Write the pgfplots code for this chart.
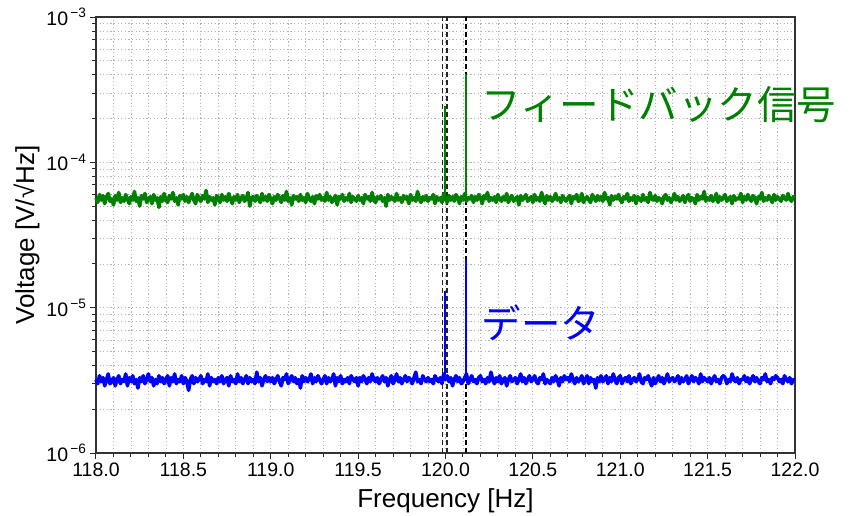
\documentclass[border=0pt]{standalone}
\usepackage{fontspec}
\setmainfont{Liberation Sans}
\newfontfamily\cjk{Noto Sans CJK JP}
\usepackage{pgfplots}
\usepackage{pgfplotstable}
\pgfplotsset{compat=1.18}
\definecolor{fbgreen}{RGB}{0,128,0}
\definecolor{datblue}{RGB}{0,0,255}

% feedback signal noise floor, units of 1e-5 V/sqrt(Hz), 118.00 ... 122.00 step 0.01
\pgfplotstableread[row sep=\\]{
g\\
5.7\\5.3\\6.0\\5.5\\5.9\\5.2\\5.8\\6.1\\5.4\\5.6\\
5.1\\5.9\\5.5\\6.2\\5.3\\5.7\\5.4\\6.0\\5.6\\5.2\\
5.8\\5.5\\6.3\\5.4\\5.7\\5.0\\5.9\\5.6\\6.1\\5.3\\
5.6\\5.8\\5.2\\6.0\\5.5\\5.7\\4.9\\5.8\\5.4\\6.1\\
5.5\\5.3\\5.9\\5.6\\6.2\\5.4\\5.7\\5.1\\5.9\\5.6\\
6.0\\5.4\\5.8\\5.3\\5.7\\6.1\\5.5\\5.2\\6.0\\5.6\\
5.4\\5.9\\5.6\\6.4\\5.3\\5.8\\5.5\\5.7\\5.1\\5.9\\
5.7\\5.3\\6.0\\5.5\\5.8\\5.4\\6.1\\5.6\\5.2\\5.8\\
5.5\\6.0\\5.3\\5.7\\5.9\\5.4\\5.6\\6.2\\5.0\\5.7\\
5.8\\5.4\\5.9\\5.6\\5.3\\6.1\\5.5\\5.8\\5.4\\6.0\\
5.6\\5.2\\5.8\\5.5\\6.0\\5.7\\5.3\\5.9\\5.5\\6.3\\
5.4\\5.7\\5.1\\5.9\\5.6\\5.8\\5.4\\6.0\\5.5\\5.7\\
5.3\\6.1\\5.6\\5.4\\5.8\\5.2\\5.9\\5.6\\6.0\\5.5\\
5.7\\5.4\\6.2\\5.5\\5.8\\5.3\\5.6\\5.9\\5.1\\5.8\\
5.6\\6.0\\5.4\\5.7\\5.5\\6.1\\5.3\\5.8\\5.6\\5.4\\
5.9\\5.5\\5.7\\5.2\\6.0\\5.6\\5.8\\5.4\\6.2\\5.5\\
5.3\\5.8\\5.6\\5.9\\5.4\\5.7\\5.0\\6.0\\5.5\\5.8\\
5.6\\5.4\\6.1\\5.5\\5.7\\5.3\\5.9\\5.6\\5.8\\5.2\\
6.0\\5.5\\5.7\\5.4\\6.3\\5.6\\5.3\\5.8\\5.5\\5.9\\
5.4\\5.7\\5.6\\6.0\\5.2\\5.8\\5.5\\5.7\\5.3\\6.1\\
5.6\\5.3\\5.9\\5.5\\5.8\\5.4\\6.0\\5.7\\5.2\\5.8\\
5.5\\6.1\\5.4\\5.7\\5.6\\5.9\\5.3\\5.8\\5.5\\6.0\\
5.7\\5.2\\5.9\\5.6\\6.2\\5.4\\5.7\\5.5\\5.8\\5.3\\
6.0\\5.6\\5.4\\5.8\\5.5\\6.1\\5.3\\5.7\\5.9\\5.4\\
5.6\\5.8\\5.1\\5.9\\5.5\\5.7\\6.0\\5.4\\5.6\\5.8\\
5.3\\6.0\\5.5\\5.7\\5.4\\6.2\\5.6\\5.2\\5.9\\5.5\\
5.8\\5.4\\5.6\\6.1\\5.5\\5.7\\5.3\\5.9\\5.6\\5.4\\
5.7\\5.9\\5.2\\5.8\\5.6\\6.0\\5.4\\5.5\\6.1\\5.3\\
5.6\\5.8\\5.5\\5.3\\6.0\\5.7\\5.4\\5.9\\5.5\\5.8\\
5.4\\6.2\\5.6\\5.7\\5.1\\5.9\\5.5\\5.8\\5.6\\6.0\\
5.5\\5.3\\5.8\\5.6\\6.1\\5.4\\5.7\\5.5\\5.9\\5.2\\
5.8\\5.6\\5.4\\6.0\\5.5\\5.7\\5.3\\6.2\\5.6\\5.5\\
5.9\\5.4\\5.7\\5.6\\5.2\\5.8\\6.0\\5.5\\5.7\\5.3\\
5.6\\6.1\\5.5\\5.8\\5.4\\5.6\\5.9\\5.3\\5.7\\6.0\\
5.4\\5.7\\5.6\\5.2\\6.0\\5.5\\5.8\\5.6\\6.3\\5.4\\
5.7\\5.5\\5.9\\5.4\\5.6\\6.1\\5.3\\5.8\\5.5\\5.7\\
6.0\\5.4\\5.6\\5.8\\5.2\\5.9\\5.5\\5.7\\5.6\\6.1\\
5.3\\5.8\\5.5\\6.0\\5.6\\5.4\\5.9\\5.7\\5.2\\5.8\\
5.6\\6.2\\5.4\\5.7\\5.5\\5.9\\5.6\\5.3\\6.0\\5.5\\
5.8\\5.6\\5.4\\5.9\\5.7\\5.5\\6.1\\5.6\\5.4\\5.8\\
5.7\\
}\greendata

% data noise floor, units of 1e-6 V/sqrt(Hz), 118.00 ... 122.00 step 0.01
\pgfplotstableread[row sep=\\]{
b\\
3.2\\3.0\\3.4\\3.1\\3.3\\2.9\\3.2\\3.5\\3.0\\3.1\\
3.3\\2.9\\3.2\\3.4\\3.0\\3.2\\3.1\\3.5\\2.9\\3.3\\
3.1\\3.4\\3.0\\3.2\\2.8\\3.3\\3.1\\3.4\\3.0\\3.2\\
3.5\\3.1\\3.3\\2.9\\3.2\\3.0\\3.4\\3.1\\3.3\\3.0\\
3.2\\3.4\\2.9\\3.3\\3.1\\3.5\\3.0\\3.2\\3.1\\3.4\\
3.0\\3.3\\3.1\\2.7\\3.2\\3.4\\3.0\\3.3\\3.1\\3.2\\
3.4\\3.0\\3.2\\3.1\\3.5\\2.9\\3.3\\3.1\\3.2\\3.0\\
3.3\\3.1\\3.4\\3.0\\3.2\\3.3\\2.9\\3.4\\3.1\\3.2\\
3.0\\3.5\\3.1\\3.3\\3.0\\3.2\\3.4\\3.0\\3.3\\3.1\\
3.2\\3.0\\3.6\\3.1\\3.3\\2.9\\3.2\\3.4\\3.1\\3.3\\
3.1\\3.3\\3.0\\3.2\\3.4\\3.1\\2.9\\3.3\\3.2\\3.5\\
3.0\\3.2\\3.4\\3.1\\3.3\\3.0\\3.2\\2.8\\3.4\\3.1\\
3.3\\3.1\\3.2\\3.5\\3.0\\3.3\\3.1\\3.4\\3.2\\3.0\\
3.2\\3.4\\3.0\\3.3\\3.1\\3.2\\3.5\\2.9\\3.3\\3.1\\
3.4\\3.0\\3.2\\3.1\\3.3\\3.0\\3.4\\3.2\\3.1\\3.3\\
2.9\\3.3\\3.1\\3.4\\3.2\\3.0\\3.3\\3.1\\3.5\\3.2\\
3.1\\3.3\\3.0\\3.2\\3.4\\3.1\\3.3\\2.9\\3.2\\3.4\\
3.0\\3.2\\3.5\\3.1\\3.3\\3.0\\3.2\\3.4\\3.1\\3.3\\
3.2\\3.0\\3.3\\3.6\\3.1\\3.2\\3.0\\3.4\\3.2\\3.1\\
3.3\\3.1\\3.2\\3.0\\3.4\\3.2\\3.1\\3.3\\3.0\\3.5\\
3.2\\3.4\\3.1\\3.3\\2.9\\3.2\\3.4\\3.1\\3.3\\3.0\\
3.1\\3.3\\3.5\\3.0\\3.2\\3.4\\3.1\\3.2\\3.0\\3.3\\
3.4\\3.1\\3.2\\3.0\\3.3\\3.1\\3.6\\3.2\\3.0\\3.3\\
3.1\\3.4\\3.0\\3.2\\3.3\\2.9\\3.2\\3.4\\3.1\\3.2\\
3.3\\3.0\\3.2\\3.5\\3.1\\3.3\\3.0\\3.2\\3.4\\3.1\\
3.2\\3.4\\3.1\\3.0\\3.3\\3.2\\3.5\\3.0\\3.2\\3.1\\
3.0\\3.3\\3.1\\3.4\\3.2\\2.9\\3.3\\3.1\\3.4\\3.2\\
3.3\\3.1\\3.5\\3.2\\3.0\\3.3\\3.1\\3.2\\3.4\\3.0\\
3.2\\3.4\\3.0\\3.3\\3.1\\3.2\\2.8\\3.3\\3.1\\3.4\\
3.1\\3.2\\3.4\\3.0\\3.3\\3.1\\3.5\\3.2\\3.0\\3.3\\
3.4\\3.0\\3.2\\3.3\\3.1\\3.4\\3.0\\3.2\\3.3\\3.1\\
3.2\\3.5\\3.1\\3.0\\3.3\\3.2\\3.4\\3.1\\2.9\\3.3\\
3.0\\3.2\\3.4\\3.1\\3.3\\3.0\\3.2\\3.5\\3.1\\3.2\\
3.3\\3.1\\3.2\\3.4\\3.0\\3.3\\3.1\\3.2\\3.4\\3.0\\
3.2\\3.4\\3.1\\3.3\\3.2\\3.0\\3.5\\3.1\\3.3\\3.2\\
3.1\\3.3\\3.0\\3.2\\3.4\\3.1\\3.2\\3.0\\3.3\\3.4\\
3.3\\3.0\\3.2\\3.1\\3.5\\3.2\\3.1\\3.3\\3.0\\3.2\\
3.2\\3.4\\3.1\\3.3\\3.0\\3.2\\3.4\\3.1\\3.3\\3.1\\
3.0\\3.3\\3.2\\3.5\\3.1\\3.2\\3.0\\3.3\\3.2\\3.4\\
3.3\\3.1\\3.2\\3.0\\3.4\\3.2\\3.1\\3.3\\3.0\\3.2\\
3.2\\
}\bluedata

\begin{document}
\begin{tikzpicture}
\begin{axis}[
  scale only axis,
  width=699pt, height=436pt,
  ymode=log,
  xmin=118, xmax=122, ymin=1e-6, ymax=1e-3,
  xtick={118,118.5,119,119.5,120,120.5,121,121.5,122},
  xticklabels={118.0,118.5,119.0,119.5,120.0,120.5,121.0,121.5,122.0},
  minor x tick num=4,
  ytick={1e-6,1e-5,1e-4,1e-3},
  yticklabels={10\textsuperscript{\,−6},10\textsuperscript{\,−5},10\textsuperscript{\,−4},10\textsuperscript{\,−3}},
  grid=both,
  major grid style={black!30, line width=0.8pt, dash pattern=on 1.2pt off 2.4pt},
  minor grid style={black!30, line width=0.8pt, dash pattern=on 1.2pt off 2.4pt},
  tick align=outside,
  xtick pos=left, ytick pos=left,
  major tick length=6pt, minor tick length=3.5pt,
  every tick/.style={black!85, line width=1pt},
  axis line style={black!80, line width=1.2pt},
  tick label style={font=\fontsize{19.5}{22}\selectfont},
  label style={font=\fontsize{26}{30}\selectfont},
  xlabel={Frequency [Hz]},
  ylabel={Voltage [V/√Hz]},
  xlabel style={yshift=-5pt},
  clip=false,
]
% reference markers
\addplot[black!85, line width=1.9pt, dash pattern=on 5pt off 3pt] coordinates {(119.983,1e-6) (119.983,1e-3)};
\addplot[black!85, line width=1.9pt, dash pattern=on 5pt off 3pt] coordinates {(120.006,1e-6) (120.006,1e-3)};
\addplot[black, line width=2.1pt, dash pattern=on 5pt off 3pt] coordinates {(120.119,1e-6) (120.119,1e-3)};
% noise floors
\addplot[fbgreen, line width=3.6pt, line join=round] table[x=g, y=g, x expr=118+0.01*\coordindex, y expr=\thisrow{g}*1e-5] {\greendata};
\addplot[datblue, line width=3.6pt, line join=round] table[x=b, y=b, x expr=118+0.01*\coordindex, y expr=\thisrow{b}*1e-6] {\bluedata};
% peaks
\addplot[fbgreen, line width=2.3pt] coordinates {(119.997,5.6e-5) (119.997,2.45e-4)};
\addplot[fbgreen, line width=2.3pt] coordinates {(120.119,5.6e-5) (120.119,4.07e-4)};
\addplot[datblue, line width=2.3pt] coordinates {(119.997,3.2e-6) (119.997,1.31e-5)};
\addplot[datblue, line width=2.3pt] coordinates {(120.119,3.2e-6) (120.119,2.17e-5)};
% labels
\node[anchor=west, text=fbgreen, inner sep=0pt, font=\cjk\fontsize{39.5}{42}\selectfont] at (axis cs:120.205,2.5e-4) {フィードバック信号};
\node[anchor=west, text=datblue, inner sep=0pt, font=\cjk\fontsize{39.5}{42}\selectfont] at (axis cs:120.205,7.9e-6) {データ};
\end{axis}
\path (current axis.south west) ++(-96pt,-62pt);
\path (current axis.north east) ++(54pt,17pt);
\end{tikzpicture}
\end{document}
